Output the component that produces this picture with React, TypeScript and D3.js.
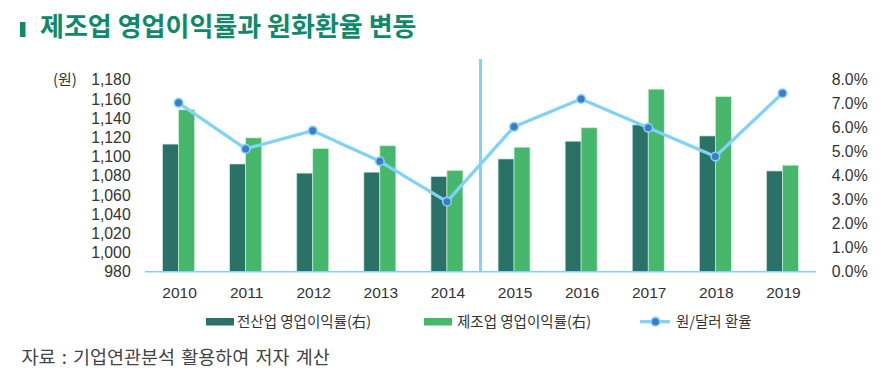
import React from "react";
import * as d3 from "d3";

const years = ["2010", "2011", "2012", "2013", "2014", "2015", "2016", "2017", "2018", "2019"];
const allIndustryMargin = [5.32, 4.49, 4.11, 4.15, 3.97, 4.70, 5.44, 6.12, 5.66, 4.20];
const manufacturingMargin = [6.75, 5.58, 5.13, 5.25, 4.22, 5.19, 6.00, 7.61, 7.30, 4.44];
const exchangeRate = [1156, 1108, 1127, 1095, 1053, 1131, 1160, 1130, 1100, 1166];
const leftTicks = [980, 1000, 1020, 1040, 1060, 1080, 1100, 1120, 1140, 1160, 1180];
const rightTicks = [0, 1, 2, 3, 4, 5, 6, 7, 8];
const title = "제조업 영업이익률과 원화환율 변동";
const legendLabels = ["전산업 영업이익률(右)", "제조업 영업이익률(右)", "원/달러 환율"];
const sourceText = "자료 : 기업연관분석 활용하여 저자 계산";

const KR = "'Noto Sans CJK KR', 'Noto Sans', sans-serif";
const NUM = "'Liberation Sans', Arial, sans-serif";
const DARK = "#2a7267";
const GREEN = "#47b86b";
const LINE = "#80d2f6";
const MARK = "#3b7bc8";
const TEXT = "#333333";

export default function App() {
  const x0 = 145, x1 = 816;
  const yTop = 79.8, yBot = 271.7;
  const x = d3.scaleBand<string>().domain(years).range([x0, x1]).paddingInner(0).paddingOuter(0);
  const yL = d3.scaleLinear().domain([980, 1180]).range([yBot, yTop]);
  const yR = d3.scaleLinear().domain([0, 8]).range([yBot, yTop]);
  const barW = 16;
  const cx = (y: string) => (x(y) as number) + x.bandwidth() / 2;
  const line = d3.line<number>().x((_, i) => cx(years[i])).y((d) => yL(d));
  const sepX = (cx("2014") + cx("2015")) / 2;

  return (
    <svg width={886} height={382} style={{ position: "absolute", left: 0, top: 0, background: "#fff" }}>
      {/* title */}
      <rect x={20} y={22} width={5.5} height={15} fill="#10896a" />
      <text x={40} y={36} fontFamily={KR} fontWeight={700} fontSize={26} fill="#10896a">{title}</text>

      {/* left axis */}
      <text x={53} y={85} fontFamily={KR} fontSize={15} fill={TEXT}>(원)</text>
      {leftTicks.map((t) => (
        <text key={t} x={130.7} y={yL(t)} dy="0.36em" textAnchor="end" fontFamily={NUM} fontSize={15.8} fill={TEXT}>
          {d3.format(",")(t)}
        </text>
      ))}
      {/* right axis */}
      {rightTicks.map((t) => (
        <text key={t} x={831.7} y={yR(t)} dy="0.36em" fontFamily={NUM} fontSize={15.8} fill={TEXT}>
          {t.toFixed(1)}%
        </text>
      ))}

      {/* bars */}
      {years.map((yr, i) => (
        <g key={yr}>
          <rect x={cx(yr) - barW} y={yR(allIndustryMargin[i])} width={barW} height={yBot - yR(allIndustryMargin[i])}
            fill={DARK} stroke="#cfe6dc" strokeWidth={0.7} />
          <rect x={cx(yr)} y={yR(manufacturingMargin[i])} width={barW} height={yBot - yR(manufacturingMargin[i])}
            fill={GREEN} stroke="#cfeedb" strokeWidth={0.7} />
        </g>
      ))}

      {/* baseline */}
      <line x1={x0} x2={x1} y1={yBot} y2={yBot} stroke={LINE} strokeWidth={1.6} />
      {/* separator */}
      <line x1={sepX} x2={sepX} y1={59} y2={yBot} stroke={LINE} strokeWidth={3} />

      {/* exchange rate line */}
      <path d={line(exchangeRate) || ""} fill="none" stroke={LINE} strokeWidth={3.3} strokeLinejoin="round" />
      {exchangeRate.map((v, i) => (
        <circle key={i} cx={cx(years[i])} cy={yL(v)} r={4.3} fill={MARK} stroke={LINE} strokeWidth={1.6} />
      ))}

      {/* x labels */}
      {years.map((yr) => (
        <text key={yr} x={cx(yr) + 1} y={298} textAnchor="middle" fontFamily={NUM} fontSize={15.5} fill={TEXT}>{yr}</text>
      ))}

      {/* legend */}
      <rect x={206} y={318} width={28} height={7.5} fill={DARK} />
      <text x={237} y={327} fontFamily={KR} fontSize={14.5} fill={TEXT}>{legendLabels[0]}</text>
      <rect x={424} y={318} width={28} height={7.5} fill={GREEN} />
      <text x={457} y={327} fontFamily={KR} fontSize={14.5} fill={TEXT}>{legendLabels[1]}</text>
      <line x1={640} x2={670} y1={321.7} y2={321.7} stroke={LINE} strokeWidth={3.3} />
      <circle cx={655.5} cy={321.7} r={4.3} fill={MARK} stroke={LINE} strokeWidth={1.6} />
      <text x={676} y={327} fontFamily={KR} fontSize={14.5} fill={TEXT}>{legendLabels[2]}</text>

      {/* source */}
      <text x={21.5} y={364} fontFamily={KR} fontSize={18.5} wordSpacing={2} fill="#444">{sourceText}</text>
    </svg>
  );
}
